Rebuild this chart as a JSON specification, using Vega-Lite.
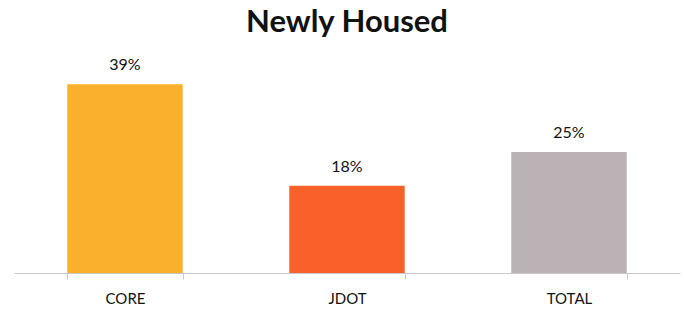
{
  "$schema": "https://vega.github.io/schema/vega-lite/v6.json",
  "autosize": "none",
  "width": 666,
  "height": 213,
  "padding": {"left": 14, "top": 60, "right": 4, "bottom": 38},
  "title": {"text": "Newly Housed", "font": "Lato", "fontSize": 31, "fontWeight": "bold", "color": "#111111", "anchor": "middle", "offset": 18},
  "config": {"view": {"stroke": null}, "font": "Lato"},
  "data": {"values": [
    {"group": "CORE", "value": 0.39},
    {"group": "JDOT", "value": 0.18},
    {"group": "TOTAL", "value": 0.25}
  ]},
  "encoding": {
    "x": {"field": "group", "type": "nominal", "sort": null,
      "scale": {"paddingInner": 0.48, "paddingOuter": 0.24},
      "axis": {"title": null, "labelAngle": 0, "labelFontSize": 15, "labelColor": "#111111", "labelPadding": 12,
        "domainColor": "#c8c8c8", "tickColor": "#c8c8c8", "tickSize": 6, "tickBand": "extent"}},
    "y": {"field": "value", "type": "quantitative", "scale": {"domain": [0, 0.44]}, "axis": null}
  },
  "layer": [
    {"mark": {"type": "bar"},
     "encoding": {"color": {"field": "group", "type": "nominal", "legend": null,
       "scale": {"domain": ["CORE", "JDOT", "TOTAL"], "range": ["#FBB02D", "#F9602A", "#BAB2B5"]}}}},
    {"mark": {"type": "text", "baseline": "alphabetic", "dy": -14, "fontSize": 16, "color": "#111111"},
     "encoding": {"text": {"field": "value", "type": "quantitative", "format": ".0%"}}}
  ]
}
